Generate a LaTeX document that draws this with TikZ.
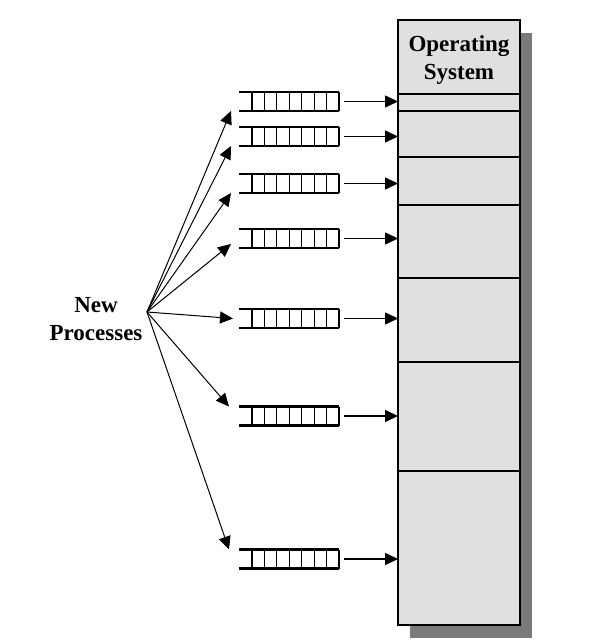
\documentclass[tikz,border=0pt]{standalone}
\usepackage{fontspec}
\setmainfont{Liberation Serif}
\usetikzlibrary{arrows.meta,calc,shadows}
\definecolor{osfill}{HTML}{E0E0E0}
\definecolor{osshade}{HTML}{7A7A7A}
\begin{document}
\begin{tikzpicture}[x=1pt,y=-1pt,
 queue/.style={minimum width=100pt,minimum height=19pt,inner sep=0pt,outer sep=0pt},
 rail/.style={line width=2.8pt},
 cell/.style={line width=1.1pt},
 feed/.style={-{Triangle[length=13pt,width=12pt]},line width=1pt},
 load/.style={-{Triangle[length=13pt,width=12pt]},line width=1.5pt},
 label/.style={font=\fontsize{23}{28}\selectfont\bfseries,align=center,inner sep=0pt},
 divider/.style={line width=1.1pt},
 osbox/.style={draw,line width=2.2pt,fill=osfill,minimum width=122pt,minimum height=605pt,inner sep=0pt,outer sep=0pt,
   drop shadow={shadow xshift=12pt,shadow yshift=-13pt,fill=osshade,opacity=1}}]
\useasboundingbox (0,0) rectangle (592,642);
\node[osbox] (os) at (459,322.5) {};
\foreach \y in {94,111,157,205,278,362,471}
  \draw[divider] ($(os.north west)+(0,\y-20)$) -- ($(os.north east)+(0,\y-20)$);
\node[label] (ostitle) at (459,60) {Operating\\System};
\node[label] (newproc) at (96,319) {New\\Processes};
\coordinate (src) at (147,312);
\foreach \n/\y in {1/101.5,2/136.5,3/183.5,4/238.5,5/318.5,6/416,7/559}{
  \node[queue] (q\n) at (289,\y) {};
  \draw[rail] (q\n.north west) -- (q\n.north east);
  \draw[rail] (q\n.south west) -- (q\n.south east);
  \foreach \k in {0,...,7}
    \draw[cell] ($(q\n.north west)+(13+12.43*\k,0)$) -- ($(q\n.south west)+(13+12.43*\k,0)$);
  \draw[load] ([xshift=5pt]q\n.east) -- (q\n.east -| os.west);
}
\draw[feed] (src) -- ([xshift=-8pt]q1.south west);
\draw[feed] (src) -- ([xshift=-8pt]q2.south west);
\draw[feed] (src) -- ([xshift=-8pt]q3.south west);
\draw[feed] (src) -- ([xshift=-8pt,yshift=4pt]q4.south west);
\draw[feed] (src) -- ([xshift=-6pt]q5.west);
\draw[feed] (src) -- ([xshift=-10pt]q6.north west);
\draw[feed] (src) -- ([xshift=-10pt]q7.north west);
\end{tikzpicture}
\end{document}
